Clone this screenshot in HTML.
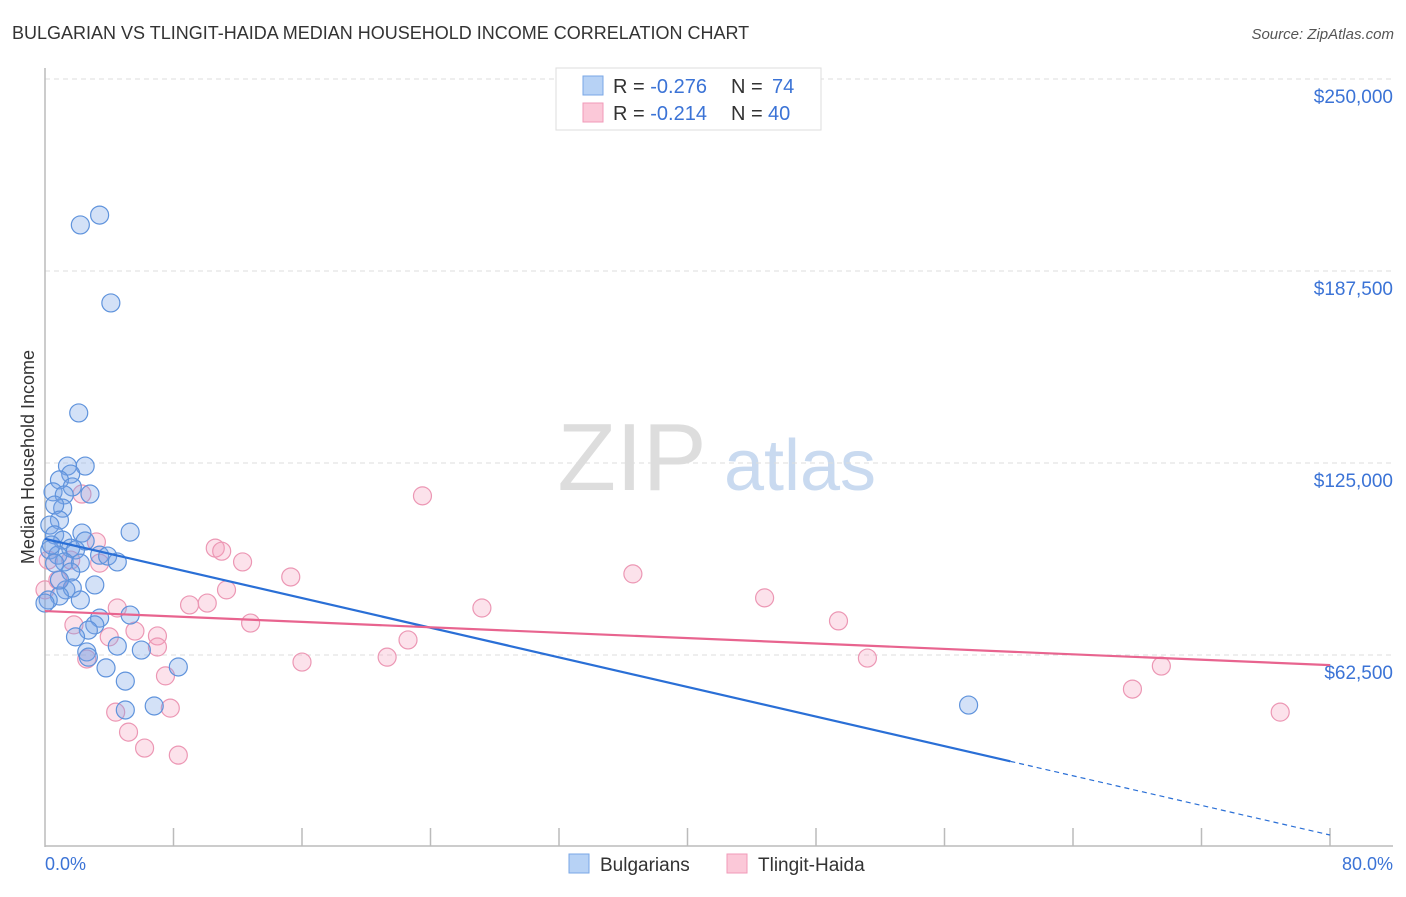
<!DOCTYPE html>
<html><head><meta charset="utf-8"><style>
body{margin:0;background:#fff;font-family:"Liberation Sans",sans-serif;}
svg text{font-family:"Liberation Sans",sans-serif;}
</style></head><body>
<svg id="c" width="1406" height="892">
<text x="12" y="39" font-size="18" fill="#333">BULGARIAN VS TLINGIT-HAIDA MEDIAN HOUSEHOLD INCOME CORRELATION CHART</text>
<text x="1394" y="39" font-size="15" fill="#555" font-style="italic" text-anchor="end">Source: ZipAtlas.com</text>
<text x="34" y="457" font-size="18" fill="#333" text-anchor="middle" transform="rotate(-90 34 457)">Median Household Income</text>
<g><text x="632" y="490" font-size="96" fill="#ddd" font-family="Liberation Serif" text-anchor="middle">ZIP</text><text x="800" y="490" font-size="72" fill="#c9daf0" text-anchor="middle">atlas</text></g>
<g id="grid"></g><g id="marks"></g>
<g>
<rect x="556" y="68" width="265" height="62" fill="#fff" stroke="#ddd"/>
<rect x="583" y="76" width="20" height="19" fill="#b7d2f5" stroke="#7aa7e6"/>
<rect x="583" y="103" width="20" height="19" fill="#fbc8d8" stroke="#f09ab8"/>
<text x="613" y="93" font-size="20" fill="#333">R = <tspan fill="#3b73d6">-0.276</tspan><tspan x="731">N = </tspan><tspan fill="#3b73d6" x="772">74</tspan></text>
<text x="613" y="120" font-size="20" fill="#333">R = <tspan fill="#3b73d6">-0.214</tspan><tspan x="731">N = </tspan><tspan fill="#3b73d6" x="768">40</tspan></text>
</g>
<g>
<rect x="569" y="854" width="20" height="19" fill="#b7d2f5" stroke="#7aa7e6"/>
<text x="600" y="871" font-size="19" fill="#333">Bulgarians</text>
<rect x="727" y="854" width="20" height="19" fill="#fbc8d8" stroke="#f09ab8"/>
<text x="758" y="871" font-size="19" fill="#333">Tlingit-Haida</text>
</g>
<text x="45" y="870" font-size="18" fill="#3b73d6">0.0%</text>
<text x="1393" y="870" font-size="18" fill="#3b73d6" text-anchor="end">80.0%</text>
</svg>
<script>
const yTicks=[62.5,125,187.5,250];
const yTickLabels=["$62,500","$125,000","$187,500","$250,000"];
const blueX=[2.2,3.4,4.1,2.1,1.4,2.5,1.6,0.9,1.7,0.5,1.2,2.8,1.1,0.6,0.9,0.3,2.3,5.3,0.6,1.1,2.5,1.6,0.3,0.8,1.9,3.4,3.9,4.5,1.2,0.6,2.2,1.6,3.1,1.3,1.7,2.2,0.9,0.2,3.4,3.1,5.3,2.7,1.9,4.5,6.0,2.6,2.7,3.8,8.3,5.0,6.8,5.0,57.5,0,0.9,0.4];
const blueY=[202.5,205.7,177.1,141.3,124.0,124.0,121.4,119.5,117.2,115.6,114.6,114.9,110.3,111.3,106.4,104.8,102.2,102.5,101.6,99.9,99.6,97.3,96.7,95.0,96.7,95.0,94.7,92.8,92.8,92.4,92.4,89.5,85.3,83.7,84.3,80.4,81.7,80.4,74.5,72.3,75.5,70.6,68.4,65.4,64.1,63.5,61.8,58.3,58.6,54.0,45.9,44.6,46.2,79.4,86.9,98.3];
const pinkX=[23.5,10.6,11.0,12.3,15.3,36.6,11.3,10.1,9.0,4.5,27.2,44.8,49.4,12.8,5.6,7.0,22.6,4.0,7.0,1.8,2.6,16.0,21.3,51.2,69.5,7.5,67.7,4.4,7.8,76.9,5.2,6.2,8.3,3.2,2.3,0,1.6,0.8,3.4,0.2];
const pinkY=[114.3,97.3,96.3,92.8,87.9,88.9,83.7,79.4,78.8,77.8,77.8,81.1,73.6,72.9,70.3,68.7,67.4,68.4,65.1,72.3,61.2,60.2,61.8,61.5,58.9,55.7,51.4,43.9,45.2,43.9,37.4,32.2,29.9,99.3,114.9,83.7,93.4,86.9,92.4,93.4];
const blueTrend=[100.3,3.9]; const blueSolidEnd=60.1;
const pinkTrend=[76.8,59.2];
const X0=45,X1=1330,Y0=847;
const sx=v=>X0+(v/80)*(X1-X0);
const sy=v=>Y0-(v/62.5)*192;
const NS="http://www.w3.org/2000/svg";
function mk(t,a,p){const e=document.createElementNS(NS,t);for(const k in a)e.setAttribute(k,a[k]);p.appendChild(e);return e;}
const g=document.getElementById('grid'),m=document.getElementById('marks');
yTicks.forEach((t,i)=>{
 const l=mk('line',{x1:X0,x2:1393,y1:sy(t),y2:sy(t),stroke:'#ddd','stroke-dasharray':'5,4'},g);
 
 
 const tx=mk('text',{x:1393,y:sy(t)+24,'font-size':19,fill:'#3b73d6','text-anchor':'end'},g);
 tx.textContent=yTickLabels[i];
 
 
});
const ax=mk('line',{x1:X0,x2:X0,y1:68,y2:847,stroke:'#bbb','stroke-width':1.5},g);


const bx=mk('line',{x1:X0,x2:1393,y1:846,y2:846,stroke:'#bbb','stroke-width':1.5},g);


for(let i=1;i<=10;i++){const t=mk('line',{x1:sx(i*8),x2:sx(i*8),y1:828,y2:846,stroke:'#bbb','stroke-width':1.5},g);
 
 }
pinkX.forEach((x,i)=>{const c=mk('circle',{cx:sx(x),cy:sy(pinkY[i]),r:9,fill:'rgba(244,160,188,0.3)',stroke:'#ec97b4','stroke-width':1.2},m);
 
 });
blueX.forEach((x,i)=>{const c=mk('circle',{cx:sx(x),cy:sy(blueY[i]),r:9,fill:'rgba(120,165,230,0.33)',stroke:'#5f93dc','stroke-width':1.2},m);
 
 });
const by=x=>blueTrend[0]+(blueTrend[1]-blueTrend[0])*x/80;
const b1=mk('line',{x1:sx(0),y1:sy(by(0)),x2:sx(blueSolidEnd),y2:sy(by(blueSolidEnd)),stroke:'#2a6fd6','stroke-width':2.2},m);


const b2=mk('line',{x1:sx(blueSolidEnd),y1:sy(by(blueSolidEnd)),x2:sx(80),y2:sy(by(80)),stroke:'#2a6fd6','stroke-width':1.2,'stroke-dasharray':'5,4'},m);


const p1=mk('line',{x1:sx(0),y1:sy(pinkTrend[0]),x2:sx(80),y2:sy(pinkTrend[1]),stroke:'#e8648f','stroke-width':2.2},m);


</script>
</body></html>
